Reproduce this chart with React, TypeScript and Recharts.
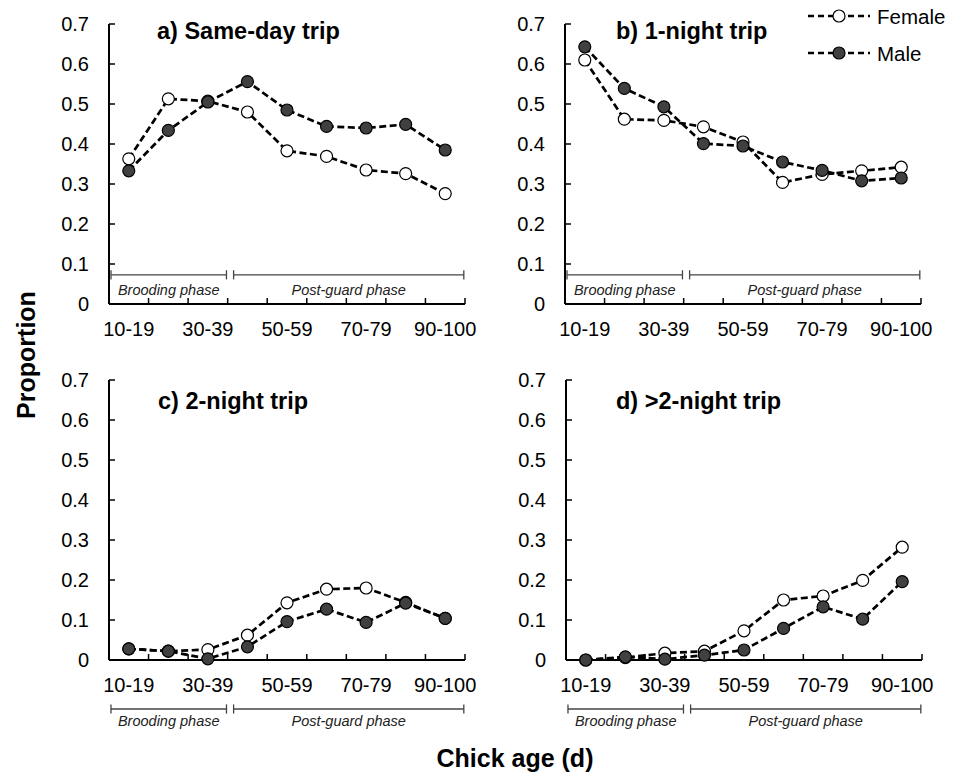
import React from "react";
import { LineChart, Line, XAxis, YAxis, ReferenceLine, Legend } from "recharts";

const FONT = '"Liberation Sans", Arial, Helvetica, sans-serif';

// chick age classes (d)
const ageClasses = ["10-19", "20-29", "30-39", "40-49", "50-59", "60-69", "70-79", "80-89", "90-100"];
const yTicks = [0, 0.1, 0.2, 0.3, 0.4, 0.5, 0.6, 0.7];

// proportion of trips per age class
const sameDayFemale = [0.363, 0.513, 0.507, 0.48, 0.383, 0.369, 0.335, 0.326, 0.276];
const sameDayMale = [0.333, 0.434, 0.505, 0.556, 0.485, 0.444, 0.44, 0.449, 0.385];
const oneNightFemale = [0.61, 0.462, 0.459, 0.443, 0.405, 0.304, 0.324, 0.333, 0.342];
const oneNightMale = [0.643, 0.539, 0.493, 0.401, 0.395, 0.355, 0.334, 0.308, 0.315];
const twoNightFemale = [0.028, 0.022, 0.026, 0.062, 0.143, 0.177, 0.18, 0.144, 0.104];
const twoNightMale = [0.028, 0.022, 0.003, 0.033, 0.096, 0.127, 0.094, 0.142, 0.104];
const longFemale = [0.0, 0.006, 0.017, 0.022, 0.073, 0.15, 0.16, 0.199, 0.282];
const longMale = [0.0, 0.008, 0.002, 0.012, 0.025, 0.079, 0.133, 0.102, 0.196];

const series = [
  { key: "female", name: "Female", fill: "#ffffff" },
  { key: "male", name: "Male", fill: "#404040" },
];

// phase brackets, in x-axis units (one unit per age class)
const phases = [
  { name: "Brooding phase", from: 0.05, to: 2.97 },
  { name: "Post-guard phase", from: 3.15, to: 8.97 },
];

const panelTitles = ["a) Same-day trip", "b) 1-night trip", "c) 2-night trip", "d) >2-night trip"];

const PLOT_W = 356;
const PLOT_H = 280;

// tick lines at class boundaries, labels at every other class centre
const xTicks = [
  ...ageClasses.map((_, i) => i),
  ageClasses.length,
  ...ageClasses.map((_, i) => i + 0.5).filter((_, i) => i % 2 === 0),
].sort((a, b) => a - b);

function XTick(props: any) {
  const { x, y, payload } = props;
  const v = payload.value;
  if (Number.isInteger(v)) {
    return <line x1={x} x2={x} y1={y} y2={y - 6} stroke="#000" strokeWidth={1.5} />;
  }
  return (
    <text x={x} y={y + 32} textAnchor="middle" fontSize={20} fill="#000" fontFamily={FONT}>
      {ageClasses[Math.floor(v)]}
    </text>
  );
}

function PhaseLabel(props: any) {
  const { viewBox, text, dy } = props;
  if (!viewBox) return null;
  return (
    <text
      x={viewBox.x + viewBox.width / 2}
      y={viewBox.y + dy + 5}
      textAnchor="middle"
      fontSize={14.5}
      fontStyle="italic"
      fill="#222"
      fontFamily={FONT}
    >
      {text}
    </text>
  );
}

function LegendBox() {
  return (
    <svg width={150} height={70} style={{ display: "block" }}>
      {series.map((s, i) => {
        const y = 16 + i * 37;
        return (
          <g key={s.key}>
            <line x1={0} x2={62} y1={y} y2={y} stroke="#000" strokeWidth={2.7} strokeDasharray="6 4" />
            <circle cx={31} cy={y} r={6} fill={s.fill} stroke="#000" strokeWidth={1.2} />
            <text x={69} y={y + 7.5} fontSize={20.5} fill="#000" fontFamily={FONT}>
              {s.name}
            </text>
          </g>
        );
      })}
    </svg>
  );
}

type PanelProps = {
  female: number[];
  male: number[];
  plotLeft: number;
  plotTop: number;
  width: number;
  phasesBelow: boolean;
  legend?: boolean;
};

function Panel({ female, male, plotLeft, plotTop, width, phasesBelow, legend }: PanelProps) {
  const data = ageClasses.map((c, i) => ({ x: i + 0.5, age: c, female: female[i], male: male[i] }));
  const height = phasesBelow ? 404 : 354;
  const lineY = phasesBelow ? -0.1225 : 0.073;
  const cap = 0.0115;
  const labelDy = phasesBelow ? 12 : 15;

  return (
    <div style={{ position: "absolute", left: plotLeft - 70, top: plotTop - 24 }}>
      <LineChart
        width={width}
        height={height}
        data={data}
        margin={{ top: 24, left: 10, right: width - 70 - PLOT_W, bottom: height - 24 - PLOT_H - 40 }}
      >
        <XAxis
          type="number"
          dataKey="x"
          domain={[0, ageClasses.length]}
          ticks={xTicks}
          interval={0}
          height={40}
          tickLine={false}
          tickSize={0}
          tickMargin={0}
          tick={<XTick />}
          axisLine={{ stroke: "#000", strokeWidth: 2 }}
        />
        <YAxis
          type="number"
          domain={[0, 0.7]}
          ticks={yTicks}
          interval={0}
          width={60}
          tickSize={-6}
          tickMargin={26}
          tickFormatter={(v: number) => (v === 0 ? "0" : v.toFixed(1))}
          tick={{ fontSize: 20, fill: "#000", fontFamily: FONT }}
          tickLine={{ stroke: "#000", strokeWidth: 1.5 }}
          axisLine={{ stroke: "#000", strokeWidth: 2 }}
        />
        {phases.map((p) => (
          <ReferenceLine
            key={p.name}
            ifOverflow="visible"
            segment={[
              { x: p.from, y: lineY },
              { x: p.to, y: lineY },
            ]}
            stroke="#444"
            strokeWidth={1.3}
            label={<PhaseLabel text={p.name} dy={labelDy} />}
          />
        ))}
        {phases.flatMap((p) =>
          [p.from, p.to].map((xv) => (
            <ReferenceLine
              key={p.name + xv}
              ifOverflow="visible"
              segment={[
                { x: xv, y: lineY - cap },
                { x: xv, y: lineY + cap },
              ]}
              stroke="#444"
              strokeWidth={1.3}
            />
          ))
        )}
        {series.map((s) => (
          <Line
            key={s.key}
            type="linear"
            dataKey={s.key}
            name={s.name}
            stroke="#000"
            strokeWidth={2.7}
            strokeDasharray="7 3.5"
            dot={{ r: 6, fill: s.fill, stroke: "#000", strokeWidth: 1.2, strokeDasharray: "none" }}
            activeDot={false}
            isAnimationActive={false}
          />
        ))}
        {legend && (
          <Legend
            layout="vertical"
            align="center"
            verticalAlign="middle"
            wrapperStyle={{ left: 313, top: 0, width: 150 }}
            content={() => <LegendBox />}
          />
        )}
      </LineChart>
    </div>
  );
}

export default function App() {
  const titlePos = [
    { x: 157, y: 38.5 },
    { x: 616, y: 38.5 },
    { x: 158, y: 408.5 },
    { x: 616, y: 408.5 },
  ];
  return (
    <div
      style={{
        position: "absolute",
        left: 0,
        top: 0,
        width: 957,
        height: 773,
        background: "#fff",
        fontFamily: FONT,
        overflow: "hidden",
      }}
    >
      <Panel female={sameDayFemale} male={sameDayMale} plotLeft={109} plotTop={24} width={446} phasesBelow={false} />
      <Panel female={oneNightFemale} male={oneNightMale} plotLeft={565} plotTop={24} width={462} phasesBelow={false} legend />
      <Panel female={twoNightFemale} male={twoNightMale} plotLeft={109} plotTop={380} width={446} phasesBelow />
      <Panel female={longFemale} male={longMale} plotLeft={566} plotTop={380} width={446} phasesBelow />
      <svg
        width={957}
        height={773}
        style={{ position: "absolute", left: 0, top: 0, pointerEvents: "none" }}
      >
        {panelTitles.map((t, i) => (
          <text key={t} x={titlePos[i].x} y={titlePos[i].y} fontSize={23.5} fontWeight="bold" fill="#000" fontFamily={FONT}>
            {t}
          </text>
        ))}
        <text
          transform="translate(35,355) rotate(-90)"
          textAnchor="middle"
          fontSize={25}
          fontWeight="bold"
          fill="#000"
          fontFamily={FONT}
        >
          Proportion
        </text>
        <text x={515} y={767} textAnchor="middle" fontSize={25} fontWeight="bold" fill="#000" fontFamily={FONT}>
          Chick age (d)
        </text>
      </svg>
    </div>
  );
}
